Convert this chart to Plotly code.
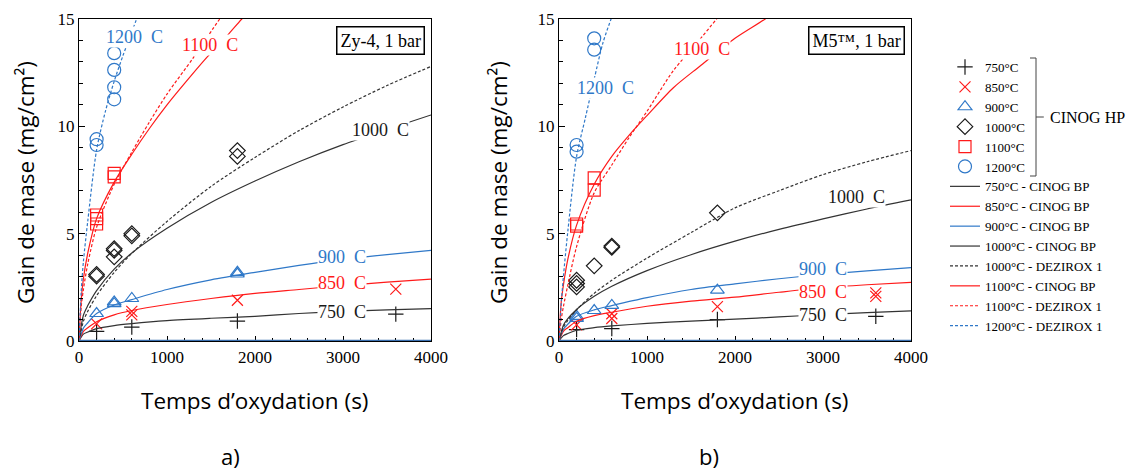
import plotly.graph_objects as go

# ---------------- DATA ----------------
# CINOG HP measurements, Zy-4 (left panel)
zy4_hp_750_t = [200, 600, 1800, 3600]
zy4_hp_750_m = [0.45, 0.65, 0.93, 1.25]
zy4_hp_850_t = [200, 600, 600, 1800, 3600]
zy4_hp_850_m = [0.80, 1.22, 1.38, 1.90, 2.42]
zy4_hp_900_t = [200, 400, 400, 600, 1800, 1800]
zy4_hp_900_m = [1.28, 1.74, 1.82, 1.98, 3.12, 3.20]
zy4_hp_1000_t = [200, 200, 400, 400, 400, 600, 600, 1800, 1800]
zy4_hp_1000_m = [3.02, 3.10, 3.92, 4.22, 4.30, 4.90, 5.00, 8.60, 8.87]
zy4_hp_1100_t = [200, 200, 200, 400, 400]
zy4_hp_1100_m = [5.45, 5.70, 5.87, 7.65, 7.81]
zy4_hp_1200_t = [200, 200, 400, 400, 400, 400]
zy4_hp_1200_m = [9.13, 9.40, 11.26, 11.82, 12.63, 13.41]

# CINOG HP measurements, M5 (right panel)
m5_hp_750_t = [200, 600, 1800, 3600]
m5_hp_750_m = [0.53, 0.58, 1.00, 1.15]
m5_hp_850_t = [200, 600, 600, 1800, 3600, 3600]
m5_hp_850_m = [0.75, 1.05, 1.27, 1.60, 2.08, 2.24]
m5_hp_900_t = [200, 200, 400, 600, 1800]
m5_hp_900_m = [1.05, 1.15, 1.42, 1.66, 2.37]
m5_hp_1000_t = [200, 200, 200, 400, 600, 600, 1800]
m5_hp_1000_m = [2.52, 2.68, 2.83, 3.50, 4.36, 4.42, 5.97]
m5_hp_1100_t = [200, 200, 400, 400]
m5_hp_1100_m = [5.35, 5.45, 7.03, 7.60]
m5_hp_1200_t = [200, 200, 400, 400]
m5_hp_1200_m = [8.82, 9.13, 13.57, 14.10]

# Model curves, common time grid for the slow curves
t_grid = [0, 50, 100, 200, 400, 600, 1000, 1500, 2000, 2500, 3000, 3500, 4000]
zy4_bp_750 = [0, 0.32, 0.42, 0.58, 0.72, 0.81, 0.95, 1.06, 1.15, 1.28, 1.38, 1.45, 1.51]
zy4_bp_850 = [0, 0.45, 0.62, 0.90, 1.22, 1.42, 1.70, 1.98, 2.22, 2.40, 2.58, 2.74, 2.88]
zy4_bp_900 = [0, 0.60, 0.85, 1.28, 1.68, 1.93, 2.40, 2.85, 3.20, 3.52, 3.80, 4.02, 4.22]
zy4_bp_1000 = [0, 1.20, 1.65, 2.35, 3.35, 4.10, 5.25, 6.45, 7.45, 8.35, 9.15, 9.85, 10.53]
zy4_dz_1000 = [0, 0.92, 1.39, 2.11, 3.20, 4.08, 5.57, 7.20, 8.55, 9.80, 10.90, 11.90, 12.79]
m5_bp_750 = [0, 0.25, 0.35, 0.50, 0.62, 0.70, 0.82, 0.93, 1.02, 1.12, 1.23, 1.32, 1.40]
m5_bp_850 = [0, 0.45, 0.62, 0.92, 1.18, 1.34, 1.62, 1.86, 2.04, 2.27, 2.48, 2.62, 2.73]
m5_bp_900 = [0, 0.55, 0.78, 1.15, 1.45, 1.65, 2.02, 2.40, 2.66, 2.90, 3.10, 3.27, 3.42]
m5_bp_1000 = [0, 0.73, 1.04, 1.47, 2.08, 2.55, 3.28, 4.02, 4.65, 5.20, 5.69, 6.15, 6.57]
m5_dz_1000 = [0, 0.64, 0.96, 1.46, 2.22, 2.83, 3.86, 5.05, 6.20, 7.00, 7.75, 8.35, 8.87]

# Fast curves (1100 C, 1200 C)
zy4_bp_1100_t = [0, 25, 50, 100, 200, 400, 600, 800, 1000, 1200, 1450, 1700, 1850, 2000]
zy4_bp_1100_m = [0, 1.9, 2.9, 4.1, 5.7, 7.4, 8.7, 9.9, 11.0, 12.0, 13.2, 14.3, 15.0, 15.6]
zy4_dz_1100_t = [0, 25, 50, 100, 200, 400, 600, 800, 1000, 1300, 1600, 1800]
zy4_dz_1100_m = [0, 1.6, 2.4, 3.6, 5.3, 7.3, 8.8, 10.2, 11.5, 13.2, 15.0, 16.0]
zy4_dz_1200_t = [0, 25, 50, 100, 200, 300, 400, 500, 600, 700]
zy4_dz_1200_m = [0, 2.3, 3.7, 5.6, 8.9, 10.7, 12.1, 13.3, 14.4, 15.5]
m5_bp_1100_t = [0, 25, 50, 100, 200, 400, 600, 800, 1000, 1300, 1600, 2000, 2343, 2500]
m5_bp_1100_m = [0, 1.8, 2.6, 3.8, 5.4, 7.3, 8.6, 9.6, 10.5, 11.8, 12.8, 14.1, 15.0, 15.5]
m5_dz_1100_t = [0, 25, 50, 100, 200, 400, 600, 800, 1000, 1300, 1550, 1790, 1900]
m5_dz_1100_m = [0, 1.0, 1.6, 2.6, 4.4, 6.9, 8.2, 9.5, 10.7, 12.6, 13.8, 15.0, 15.6]
m5_dz_1200_t = [0, 25, 50, 100, 200, 300, 400, 500, 600, 650]
m5_dz_1200_m = [0, 1.7, 3.0, 5.1, 8.6, 10.4, 12.2, 13.9, 15.1, 15.7]

# Curve labels
curve_label_text = ["1200\u00a0\u00a0C", "1100\u00a0\u00a0C", "1000\u00a0\u00a0C",
                    "900\u00a0\u00a0C", "850\u00a0\u00a0C", "750\u00a0\u00a0C"]
zy4_label_t = [636, 1488, 3431, 2988, 2988, 2988]
zy4_label_m = [14.18, 13.80, 9.84, 3.91, 2.70, 1.35]
m5_label_t = [523, 1625, 3385, 3000, 3000, 3000]
m5_label_m = [11.80, 13.62, 6.71, 3.35, 2.28, 1.21]

x_ticks = [0, 1000, 2000, 3000, 4000]
y_ticks = [0, 5, 10, 15]

# ---------------- STYLE ----------------
RED = "#ff1a1a"
BLUE = "#2f78c8"
BLACK = "#1a1a1a"
GREY = "#333333"
SERIF = "Liberation Serif, Times New Roman, serif"
SANS = "Open Sans, sans-serif"
DOT = "3px,2px"
OFF = 8                      # page body margin of the html document
W, H = 1139 - OFF, 471 - OFF
ML, MR, MT, MB = 79 - OFF, 228, 19 - OFF, 130
PW, PH = W - ML - MR, H - MT - MB   # 832 x 322


def px_x(sx):
    """screen x pixel -> paper x"""
    return (sx - OFF - ML) / PW


def px_y(sy):
    """screen y pixel -> paper y"""
    return (H - MB - (sy - OFF)) / PH


fig = go.Figure()


def add_markers(t, m, sym, color, size, name, xa, ya, show):
    fig.add_trace(go.Scatter(
        x=t, y=m, mode="markers", name=name, showlegend=show,
        xaxis=xa, yaxis=ya,
        marker=dict(symbol=sym, size=size, color=color,
                    line=dict(color=color, width=1.2)),
        hoverinfo="skip"))


def add_line(t, m, color, dash, name, xa, ya, show):
    fig.add_trace(go.Scatter(
        x=t, y=m, mode="lines", name=name, showlegend=show,
        xaxis=xa, yaxis=ya, line=dict(color=color, width=1.2, dash=dash,
                                      shape="spline", smoothing=0.8),
        hoverinfo="skip"))


panels = [
    ("x", "y", True,
     [(zy4_hp_750_t, zy4_hp_750_m), (zy4_hp_850_t, zy4_hp_850_m),
      (zy4_hp_900_t, zy4_hp_900_m), (zy4_hp_1000_t, zy4_hp_1000_m),
      (zy4_hp_1100_t, zy4_hp_1100_m), (zy4_hp_1200_t, zy4_hp_1200_m)],
     [(t_grid, zy4_bp_750), (t_grid, zy4_bp_850), (t_grid, zy4_bp_900),
      (t_grid, zy4_bp_1000), (t_grid, zy4_dz_1000),
      (zy4_bp_1100_t, zy4_bp_1100_m), (zy4_dz_1100_t, zy4_dz_1100_m),
      (zy4_dz_1200_t, zy4_dz_1200_m)]),
    ("x2", "y2", False,
     [(m5_hp_750_t, m5_hp_750_m), (m5_hp_850_t, m5_hp_850_m),
      (m5_hp_900_t, m5_hp_900_m), (m5_hp_1000_t, m5_hp_1000_m),
      (m5_hp_1100_t, m5_hp_1100_m), (m5_hp_1200_t, m5_hp_1200_m)],
     [(t_grid, m5_bp_750), (t_grid, m5_bp_850), (t_grid, m5_bp_900),
      (t_grid, m5_bp_1000), (t_grid, m5_dz_1000),
      (m5_bp_1100_t, m5_bp_1100_m), (m5_dz_1100_t, m5_dz_1100_m),
      (m5_dz_1200_t, m5_dz_1200_m)]),
]

marker_styles = [("cross-thin-open", BLACK, 11, "750°C"),
                 ("x-thin-open", RED, 11, "850°C"),
                 ("triangle-up-open", BLUE, 12, "900°C"),
                 ("diamond-open", BLACK, 12, "1000°C"),
                 ("square-open", RED, 12, "1100°C"),
                 ("circle-open", BLUE, 13, "1200°C")]
line_styles = [(GREY, "solid", "750°C - CINOG BP"),
               (RED, "solid", "850°C - CINOG BP"),
               (BLUE, "solid", "900°C - CINOG BP"),
               (GREY, "solid", "1000°C - CINOG BP"),
               (GREY, DOT, "1000°C - DEZIROX 1"),
               (RED, "solid", "1100°C - CINOG BP"),
               (RED, DOT, "1100°C - DEZIROX 1"),
               (BLUE, DOT, "1200°C - DEZIROX 1")]

for xa, ya, show, pts, curves in panels:
    for (t, m), (sym, col, sz, nm) in zip(pts, marker_styles):
        add_markers(t, m, sym, col, sz, nm, xa, ya, show)
    for (t, m), (col, dash, nm) in zip(curves, line_styles):
        add_line(t, m, col, dash, nm, xa, ya, show)

# ---------------- AXES ----------------
def make_axis(**kw):
    base = dict(showline=True, linecolor="black", linewidth=1.3, mirror=True,
                ticks="inside", tickcolor="black", showgrid=False, zeroline=False,
                automargin=False,
                tickfont=dict(family=SERIF, size=17, color="black"))
    base.update(kw)
    return base


left_dom = [0, 352 / PW]
right_dom = [480 / PW, 1]

fig.update_layout(
    width=W, height=H,
    margin=dict(l=ML, r=MR, t=MT, b=MB),
    paper_bgcolor="white", plot_bgcolor="white",
    font=dict(family=SERIF, color="black"),
    xaxis=make_axis(domain=left_dom, anchor="y", range=[0, 4000], tickvals=x_ticks,
                    ticklen=5, minor=dict(dtick=200, ticks="inside", ticklen=3,
                                          tickcolor="black")),
    yaxis=make_axis(domain=[0, 1], anchor="x", range=[0, 15], tickvals=y_ticks,
                    ticklen=6, minor=dict(dtick=1, ticks="inside", ticklen=4,
                                          tickcolor="black")),
    xaxis2=make_axis(domain=right_dom, anchor="y2", range=[0, 4000], tickvals=x_ticks,
                     ticklen=5, minor=dict(dtick=200, ticks="inside", ticklen=3,
                                           tickcolor="black")),
    yaxis2=make_axis(domain=[0, 1], anchor="x2", range=[0, 15], tickvals=y_ticks,
                     ticklen=6, minor=dict(dtick=1, ticks="inside", ticklen=4,
                                           tickcolor="black")),
    # legend kept fully inside the vertical extent of the plot area so it
    # does not push the margins
    legend=dict(x=px_x(945), y=0.0, xanchor="left", yanchor="bottom",
                font=dict(family=SERIF, size=13, color="black"),
                bgcolor="rgba(0,0,0,0)", tracegroupgap=0, itemwidth=30),
    showlegend=True,
)

# blue baseline on the time axis
for xr, yr in [("x domain", "y"), ("x2 domain", "y2")]:
    fig.add_shape(type="line", xref=xr, yref=yr, x0=0, x1=1, y0=0, y1=0,
                  line=dict(color="#3a70b0", width=2.5))

# ---------------- TEXT ----------------
label_colors = [BLUE, RED, BLACK, BLUE, RED, BLACK]
for xa, ya, lt, lm in [("x", "y", zy4_label_t, zy4_label_m),
                       ("x2", "y2", m5_label_t, m5_label_m)]:
    for txt, tt, mm, col in zip(curve_label_text, lt, lm, label_colors):
        fig.add_annotation(x=tt, y=mm, xref=xa, yref=ya, text=txt, showarrow=False,
                           xanchor="center", yanchor="middle",
                           font=dict(family=SERIF, size=18, color=col),
                           bgcolor="white", borderpad=0)

for xr, yr, txt in [("x domain", "y domain", "Zy-4, 1 bar"),
                    ("x2 domain", "y2 domain", "M5™, 1 bar")]:
    fig.add_annotation(x=0.983, y=0.977, xref=xr, yref=yr, xanchor="right", yanchor="top",
                       text=txt, showarrow=False, bgcolor="white",
                       bordercolor="black", borderwidth=1.5, borderpad=3,
                       font=dict(family=SERIF, size=18, color="black"))

for cx in [255, 735]:
    fig.add_annotation(x=px_x(cx), y=px_y(400), xref="paper", yref="paper",
                       xanchor="center", yanchor="middle",
                       text="Temps d’oxydation (s)", showarrow=False,
                       font=dict(family=SANS, size=22.5, color="black"))
for cx in [25, 498]:
    fig.add_annotation(x=px_x(cx), y=px_y(183), xref="paper", yref="paper",
                       xanchor="center", yanchor="middle", textangle=-90,
                       text="Gain de mase (mg/cm²)", showarrow=False,
                       font=dict(family=SANS, size=22.5, color="black"))
for cx, txt in [(230, "a)"), (709, "b)")]:
    fig.add_annotation(x=px_x(cx), y=px_y(456), xref="paper", yref="paper",
                       xanchor="center", yanchor="middle", text=txt,
                       showarrow=False, font=dict(family=SANS, size=22, color="black"))

# bracket grouping the CINOG HP legend entries
bx = px_x(1036)
ytop = px_y(58)
ybot = px_y(176)
ymid = (ytop + ybot) / 2
tick = 6 / PW
for x0, y0, x1, y1 in [(bx, ytop, bx, ybot), (bx - tick, ytop, bx, ytop),
                       (bx - tick, ybot, bx, ybot), (bx, ymid, bx + tick * 1.3, ymid)]:
    fig.add_shape(type="line", xref="paper", yref="paper", x0=x0, y0=y0, x1=x1, y1=y1,
                  line=dict(color="#444444", width=1))
fig.add_annotation(x=bx + 12 / PW, y=ymid, xref="paper", yref="paper", xanchor="left",
                   yanchor="middle", text="CINOG HP", showarrow=False,
                   font=dict(family=SERIF, size=16, color="black"))

fig.write_html("out.html")
